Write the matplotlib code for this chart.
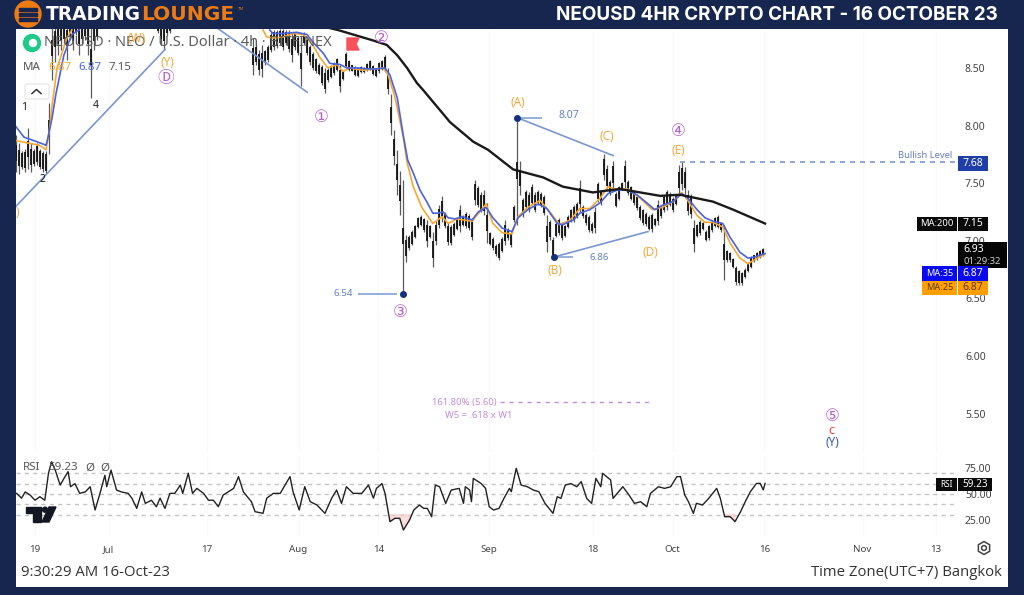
import datetime as dt
import numpy as np
import matplotlib
matplotlib.use("Agg")
import matplotlib.pyplot as plt
from matplotlib.patches import Rectangle, Circle, FancyBboxPatch, Polygon

# ------------------------- DATA -------------------------
START = dt.date(2023, 6, 19)
time_ticks = [(2023,6,19),(2023,7,1),(2023,7,17),(2023,8,1),(2023,8,14),(2023,9,1),
              (2023,9,18),(2023,10,1),(2023,10,16),(2023,11,1),(2023,11,13)]
time_labels = ['19','Jul','17','Aug','14','Sep','18','Oct','16','Nov','13']
price_ticks = [5.5, 6.0, 6.5, 7.0, 7.5, 8.0, 8.5]
rsi_ticks = [25, 50, 75]
rsi_levels = [30, 40, 50, 60, 70]

# price bars, early part of the chart
early_high = [7.92,7.85,7.78,7.80,7.98,7.85,7.80,7.85,7.80,7.78,7.78,8.20,8.95,8.95,8.95,8.95,8.95,8.95,
              8.95,8.95,8.95,8.95,8.95,8.95,8.95,8.95,8.95,8.95]
early_low = [7.60,7.58,7.62,7.60,7.62,7.60,7.65,7.66,7.62,7.60,7.58,7.75,8.40,8.55,8.61,8.66,8.70,8.57,
             8.74,8.66,8.79,8.61,8.70,8.74,8.61,8.24,8.66,8.74]
mid_high = [8.95,8.95,8.95,8.95,8.95]
mid_low = [8.80,8.70,8.66,8.78,8.80]
# price bars, main part of the chart
bar_high = [8.76,8.70,8.66,8.70,8.66,8.70,8.81,8.83,8.83,8.84,8.84,8.83,8.83,8.81,8.81,8.78,8.78,8.81,8.76,8.70,
            8.64,8.59,8.54,8.53,8.50,8.50,8.53,8.55,8.59,8.53,8.47,8.64,8.57,8.53,8.52,8.51,8.52,8.51,8.54,8.57,
            8.53,8.50,8.55,8.57,8.61,8.50,8.27,7.96,7.79,7.61,7.53,
            7.05,7.05,7.09,7.14,7.21,7.22,7.20,7.18,7.14,7.08,7.17,7.31,7.39,7.25,7.16,7.14,7.16,7.20,7.31,7.22,
            7.25,7.23,7.20,7.53,7.48,7.42,7.44,7.33,7.08,7.03,6.97,6.99,7.03,7.18,7.11,7.08,7.31,8.08,7.69,7.37,
            7.44,7.42,7.49,7.42,7.44,7.42,7.40,7.22,7.18,7.03,7.16,7.20,7.16,7.14,7.22,7.28,7.31,7.34,7.53,7.31,
            7.24,7.22,7.16,7.29,7.51,7.44,7.75,7.66,7.53,7.69,7.42,7.48,7.51,7.70,7.53,7.48,7.44,7.40,7.31,7.28,
            7.25,7.22,7.24,7.20,7.35,7.31,7.40,7.44,7.42,7.38,7.40,7.66,7.68,7.64,7.44,7.41,7.18,7.15,7.18,7.16,
            7.09,7.14,7.16,7.21,7.22,7.16,7.14,6.92,6.90,6.85,6.78,6.75,6.73,6.76,6.82,6.87,6.88,6.90,6.92,6.94]
bar_low = [8.44,8.53,8.44,8.42,8.53,8.55,8.64,8.66,8.67,8.70,8.66,8.70,8.64,8.55,8.66,8.61,8.34,8.70,8.61,8.53,
           8.48,8.46,8.44,8.35,8.28,8.38,8.41,8.44,8.47,8.29,8.40,8.50,8.47,8.47,8.43,8.42,8.46,8.46,8.47,8.48,
           8.44,8.42,8.46,8.48,8.47,8.27,7.92,7.66,7.40,7.22,6.55,
           6.82,6.92,6.96,7.02,7.11,7.13,7.08,6.95,7.02,6.77,6.96,7.11,7.16,7.11,6.96,6.96,7.04,7.09,7.08,7.13,
           7.11,7.09,7.01,7.31,7.29,7.25,7.22,6.98,6.96,6.92,6.87,6.83,6.90,6.96,7.01,6.95,7.16,7.14,7.40,7.21,
           7.27,7.25,7.31,7.25,7.31,7.29,7.22,6.90,7.01,6.86,7.03,7.05,7.01,7.03,7.11,7.16,7.16,7.20,7.25,7.20,
           7.14,7.08,7.07,7.07,7.34,7.31,7.53,7.44,7.40,7.46,7.29,7.35,7.44,7.46,7.40,7.35,7.31,7.27,7.18,7.14,
           7.13,7.09,7.08,7.13,7.14,7.20,7.25,7.27,7.30,7.25,7.31,7.40,7.44,7.41,7.22,7.20,6.90,7.03,7.05,7.09,
           7.00,7.01,7.08,7.12,7.11,7.08,6.66,6.82,6.82,6.76,6.62,6.62,6.62,6.68,6.73,6.76,6.82,6.83,6.85,6.87]

ma35_days_a = [-3.1,-1.8,-0.2,1.8,2.0,2.8,3.4,4.7,6.0,7.2]
ma35_a = [7.99,7.90,7.87,7.83,7.87,8.07,8.27,8.61,8.79,8.83]
ma25_days_a = [-3.1,-1.3,0.7,1.8,2.3,2.8,3.6,5.2,6.0]
ma25_a = [7.87,7.85,7.83,7.79,7.94,8.18,8.50,8.76,8.83]

ma35_days = [38.3,38.8,40.5,42.7,44.4,45.4,47.0,48.1,49.8,50.9,52.5,55.1,57.1,57.9,59.1,60.0,60.8,61.7,62.8,63.9,
             64.9,65.7,66.6,67.4,68.5,69.7,71.3,72.3,73.6,74.7,76.2,77.8,78.8,80.4,82.1,83.5,85.2,86.1,87.8,88.9,
             90.5,92.2,93.5,95.0,96.6,98.2,99.8,101.1,102.4,104.1,105.5,106.5,108.0,109.3,110.6,112.2,113.4,115.0,
             116.3,117.5,119.1]
ma35 = [8.83,8.80,8.80,8.81,8.79,8.72,8.63,8.54,8.53,8.50,8.50,8.49,8.50,8.44,8.24,7.94,7.70,7.59,7.44,7.34,
        7.24,7.24,7.25,7.20,7.19,7.21,7.18,7.25,7.29,7.20,7.11,7.08,7.20,7.27,7.32,7.28,7.15,7.14,7.18,7.24,
        7.27,7.33,7.41,7.44,7.44,7.40,7.33,7.27,7.31,7.34,7.41,7.37,7.27,7.20,7.17,7.15,7.03,6.90,
        6.85,6.86,6.89]
ma25_days = [37.2,37.8,38.8,40.5,42.1,43.7,44.9,46.5,47.8,49.3,50.2,51.4,53.5,56.8,57.6,58.7,60.0,60.7,61.7,63.1,
             64.9,66.4,67.4,68.8,71.3,73.6,74.7,76.2,77.8,78.8,80.4,82.4,84.0,85.6,87.3,88.9,90.5,92.2,93.5,95.0,
             96.7,98.7,100.7,102.3,104.1,105.5,106.5,108.0,109.3,110.6,112.2,113.4,115.0,116.3,117.8,119.0]
ma25 = [8.83,8.77,8.76,8.77,8.80,8.79,8.74,8.59,8.50,8.53,8.47,8.50,8.48,8.50,8.44,8.25,7.92,7.68,7.47,7.29,
        7.15,7.21,7.15,7.19,7.17,7.32,7.15,7.07,7.06,7.21,7.29,7.35,7.25,7.14,7.18,7.28,7.28,7.37,7.47,7.44,
        7.45,7.37,7.27,7.29,7.34,7.42,7.35,7.22,7.16,7.16,7.12,6.98,6.85,6.80,6.85,6.88]
ma200_days = [47.0,49.4,55.1,57.4,59.1,60.7,62.3,63.3,67.7,71.5,73.9,78.0,82.9,86.1,91.0,95.4,102.0,105.2,110.6,113.9,119.1]
ma200 = [8.86,8.83,8.74,8.70,8.61,8.50,8.37,8.31,8.03,7.86,7.79,7.62,7.55,7.47,7.42,7.45,7.39,7.40,7.34,7.27,7.15]

rsi_days = [-3,-2.2,-1.6,-0.8,0,0.8,1.6,2.2,2.7,3.3,4.1,4.9,5.4,5.8,6.5,7.3,8.2,9,9.8,10.6,11.4,11.7,12.4,13.3,14.1,
            15.2,15.8,16.6,17.4,18,19,19.8,20.4,21.2,22,22.8,23.7,24.1,25,25.7,26.4,27.5,28.3,29.1,29.9,30.7,31.5,
            32.4,33.2,34,35.3,35.9,37.2,37.8,38.9,40,40.8,41.6,42.1,43.1,44,44.9,46,47.3,48.4,49.2,50,50.8,51.9,
            53.3,54.4,55.2,55.7,56.6,57.1,57.9,58.7,59.5,60.1,61.1,61.8,62.7,63.4,64,64.7,65.3,66,67,67.9,69.2,
            69.9,70.2,70.9,71.2,71.5,72.8,73.5,74.1,74.8,75.7,76.5,77.4,77.7,78.5,79.3,80.3,81.3,82.2,83.2,84.5,
            85.2,85.8,86.5,87.4,88.4,89.1,90,90.8,91.5,92.3,92.6,93.9,94.3,95.2,95.9,96.9,97.8,98.8,99.8,100.4,
            101.7,102.7,103.7,104.7,105.3,106,106.6,107.4,107.9,108.9,109.9,111.2,111.8,112.5,113.4,114.2,115.1,
            116,116.7,117.7,118.3,118.8,119.1]
rsi = [50.6,46,52,49,44,47.4,44,70,81,73,58.6,66.7,71.5,57,60,50.6,52,57,34.6,50.6,68,57,73,53.8,52,50.6,46,36.2,52,41,
       44,37.8,46,36.2,50.6,50.6,58.6,50.6,70,50.6,55.4,50.6,44,44,37.8,49,52,55.4,66.7,52,42.6,33,31.4,46,50.6,50.6,
       58.6,66.7,52,34.6,57,42.6,39.4,31.4,46,53.8,41,57,50.6,50.6,58.6,46,55.4,60,50.6,23.4,26.6,26.6,15.4,25,34.6,
       39.4,36.2,36.2,28.2,58.6,57,41,53.8,55.4,41,57,53.8,42.6,65,60,55.4,37.8,34.6,36.2,45.8,55.4,52.2,74.7,58.6,
       57,53.8,52.2,41,31.4,47.4,45.8,58.6,60,57,61.9,45.8,41,65,57,69.9,63.5,45.8,52.2,57,49,41,42.6,37.8,50.6,57,
       55.4,57,66.7,66.7,49,42.6,31.4,41,39.4,45.8,55.4,45.8,28.2,28.2,23.4,33,44.2,52.2,60.2,60.2,54,60.2]

trend_lines = {
    'up': ([-3.1, 21.2], [7.30, 8.66]),
    'down': ([29.9, 44.4], [8.84, 8.29]),
    'A_C': ([78.6, 94.3], [8.07, 7.74]),
    'B_D': ([84.7, 100.0], [6.86, 7.08]),
}
swing_days = [78.6, 84.7, 60.0]
swing_prices = [8.07, 6.86, 6.54]
bullish_level = 7.68
fib_level = 5.60

# ------------------------- COLOURS -------------------------
NAVY = '#16264f'; ORANGE = '#f7a833'; BLUE = '#4a63e0'; TREND = '#7b97d2'
PURPLE = '#b565cc'; GREY = '#555555'; LOUNGE = '#ee7a12'
W, H = 1024, 595

fig = plt.figure(figsize=(W/100, H/100), dpi=100, facecolor=NAVY)
def bounds(x0, y0, x1, y1):
    return [x0/W, 1-y1/H, (x1-x0)/W, (y1-y0)/H]

panel = fig.add_axes(bounds(16, 29, 1008, 587), facecolor='white', zorder=0)
panel.set_xticks([]); panel.set_yticks([])
for s in panel.spines.values():
    s.set_visible(False)

PX_PER_DAY = 6.13
XLIM = (-3.1, (958-35)/PX_PER_DAY)
ax = fig.add_axes(bounds(16, 29, 958, 452), facecolor='none', zorder=1)
rx = fig.add_axes(bounds(16, 455, 958, 537), facecolor='none', zorder=1)
ax.set_xlim(*XLIM); rx.set_xlim(*XLIM)
ax.set_ylim(8.5-(452-68)*0.5/57.6, 8.5+(68-29)*0.5/57.6)
rx.set_ylim(75-(537-468)/1.04, 75+(468-455)/1.04)
for a in (ax, rx):
    for s in a.spines.values():
        s.set_visible(False)
    a.yaxis.tick_right()

tick_days = [(dt.date(*d)-START).days for d in time_ticks]
ax.set_xticks(tick_days); ax.set_xticklabels([])
ax.tick_params(axis='x', length=0)
rx.set_xticks(tick_days); rx.set_xticklabels(time_labels)
rx.tick_params(axis='x', length=0, pad=6, labelsize=7, labelcolor='#444444')
ax.set_yticks(price_ticks); ax.set_yticklabels([f'{p:.2f}' for p in price_ticks])
ax.tick_params(axis='y', length=0, pad=5, labelsize=7.5, labelcolor='#444444')
rx.set_yticks(rsi_ticks); rx.set_yticklabels([f'{p:.2f}' for p in rsi_ticks])
rx.tick_params(axis='y', length=0, pad=5, labelsize=7.5, labelcolor='#444444')
for a in (ax, rx):
    a.grid(True, axis='x', color='#f8f8f8', lw=0.8)
    a.set_axisbelow(True)
    for lab in a.get_xticklabels()+a.get_yticklabels():
        lab.set_family('Noto Sans')

# bars
STEP = 3/PX_PER_DAY
def draw_bars(a, start, hi, lo):
    hi = np.array(hi); lo = np.array(lo)
    d = start + np.arange(len(hi))*STEP
    a.vlines(d, lo, hi, color='#5a5a5a', lw=0.9, zorder=2)
    mid = (hi+lo)/2
    half = np.minimum((hi-lo)*0.38, 0.07)
    a.vlines(d, mid-half, mid+half, color='#111111', lw=1.3, zorder=2.2)
draw_bars(ax, -3.1, early_high, early_low)
draw_bars(ax, 20.0, mid_high, mid_low)
draw_bars(ax, 35.56, bar_high, bar_low)

# moving averages
ax.plot(ma25_days_a, ma25_a, color=ORANGE, lw=1.2, zorder=3)
ax.plot(ma25_days, ma25, color=ORANGE, lw=1.2, zorder=3)
ax.plot(ma35_days_a, ma35_a, color=BLUE, lw=1.2, zorder=3.1)
ax.plot(ma35_days, ma35, color=BLUE, lw=1.2, zorder=3.1)
ax.plot(ma200_days, ma200, color='#1a1a1a', lw=1.7, zorder=3.2)

# trend lines and levels
for xs, ys in trend_lines.values():
    ax.plot(xs, ys, color=TREND, lw=1.2, zorder=2.5)
ax.plot(swing_days, swing_prices, 'o', color='#14307e', ms=4, zorder=4)
ax.hlines(8.07, 79.0, 82.7, color=TREND, lw=1.1)
ax.hlines(6.86, 85.2, 87.8, color=TREND, lw=1.1)
ax.hlines(6.54, 52.7, 59.0, color=TREND, lw=1.1)
ax.hlines(bullish_level, 105.2, XLIM[1], color=TREND, lw=1.2, linestyles=(0, (3, 3)))
ax.hlines(fib_level, 75.9, 100.3, color='#c58bdc', lw=1.0, linestyles=(0, (3, 3.5)))

# RSI
for lv in rsi_levels:
    rx.axhline(lv, color='#c4c4c4', lw=1.0, ls=(0, (3, 3)), zorder=1)
rx.plot(rsi_days, rsi, color='#222222', lw=1.0, zorder=3)
rsi_arr = np.array(rsi)
rx.fill_between(rsi_days, rsi_arr, 30, where=rsi_arr < 30, color='#f8c8c8', alpha=0.6, zorder=2)

# overlay in pixel space for header, labels and price tags
ov = fig.add_axes([0, 0, 1, 1], facecolor='none', zorder=5)
ov.set_xlim(0, W); ov.set_ylim(H, 0); ov.axis('off')

def label(x, y, s, color='#333333', size=8, ha='center', weight='normal', family='Noto Sans'):
    ov.text(x, y, s, color=color, fontsize=size, ha=ha, va='center', fontweight=weight, family=family)

# logo and title
ov.add_patch(Circle((28, 14), 13, color=LOUNGE))
for yy in (9, 14, 19):
    ov.add_patch(Rectangle((19, yy-1.5), 18, 3, color=NAVY))
label(46, 14, 'TRADING', 'white', 13.4, 'left', 'bold', 'DejaVu Sans')
label(141, 14, 'LOUNGE', LOUNGE, 14.6, 'left', 'bold', 'DejaVu Sans')
label(238, 9, 'TM', LOUNGE, 3, 'left')
label(998, 15, 'NEOUSD 4HR CRYPTO CHART - 16 OCTOBER 23', 'white', 13.55, 'right', 'bold', 'Inter')

# chart header
ov.add_patch(Circle((32, 43), 8.5, color='#1fc98a', zorder=1))
ov.add_patch(Circle((33, 43), 3.5, color='white', zorder=1))
label(44, 43, 'NEOUSD · NEO / U.S. Dollar · 4h · BITFINEX', '#5c5c5c', 10.5, 'left')
ov.add_patch(Polygon([(347, 38), (359, 38), (356, 44), (359, 50), (347, 50)], color='#f9505a'))
label(23, 68, 'MA', GREY, 8.3, 'left')
label(48, 68, '6.87', ORANGE, 8.3, 'left')
label(78, 68, '6.87', BLUE, 8.3, 'left')
label(109, 68, '7.15', GREY, 8.3, 'left')
ov.add_patch(FancyBboxPatch((25, 84), 24, 15, boxstyle='round,pad=0,rounding_size=2', fc='white', ec='#e4e4e4', lw=0.8))
ov.plot([32, 36.5, 41], [93.5, 89.5, 93.5], color='#333333', lw=1.1)
label(24, 108, '1', '#222222', 7.5, 'center')
label(42, 180, '2', '#111111', 7.5, 'center')
label(96, 105, '4', '#222222', 7.5, 'center')

# wave labels
for x, y, s in [(518, 103, '(A)'), (555, 270, '(B)'), (607, 136, '(C)'), (650, 253, '(D)'),
                (678, 151, '(E)'), (167, 62, '(Y)'), (137, 38, '(W)'), (17, 213, ')')]:
    label(x, y, s, '#f8a93a', 8.5)
label(166, 79, 'Ⓓ', PURPLE, 12, family=['Noto Sans CJK JP', 'DejaVu Sans'])
for x, y, s in [(321, 117, '①'), (381, 38, '②'), (400, 312, '③'), (678, 131, '④'), (832, 416, '⑤')]:
    label(x, y, s, PURPLE, 12, family='DejaVu Sans')
label(831, 431, 'c', '#f04050', 9, weight='bold')
label(832, 443, '(Y)', '#3a5aa8', 8.5)

label(569, 116, '8.07', '#6680c0', 7.5, weight='bold')
label(599, 257, '6.86', '#6680c0', 7)
label(343, 294, '6.54', '#6680c0', 7)
label(925, 155, 'Bullish Level', '#6680c0', 6.8)
label(464, 402, '161.80% (5.60)', '#c58bdc', 6.8)
label(479, 415, 'W5 = .618 x W1', '#c58bdc', 6.8)

# price tags
def tag(x0, y0, x1, y1, fc):
    ov.add_patch(Rectangle((x0, y0), x1-x0, y1-y0, fc=fc, ec='none'))
tag(958, 156, 988, 171, '#1f3fa8'); label(973, 163.5, '7.68', 'white', 7.5, weight='bold')
tag(917, 217, 957, 231, '#0a0a0a'); label(937, 224, 'MA:200', 'white', 6.8)
tag(958, 217, 988, 231, '#0a0a0a'); label(973, 224, '7.15', 'white', 7.5, weight='bold')
tag(958, 242, 1007, 268, '#050505')
label(974, 249, '6.93', 'white', 7.5, weight='bold')
label(982, 261, '01:29:32', '#cccccc', 6.8)
tag(922, 266, 957, 281, '#0a0af0'); label(939.5, 273.5, 'MA:35', 'white', 6.6)
tag(958, 266, 988, 281, '#0a0af0'); label(973, 273.5, '6.87', 'white', 7.5, weight='bold')
tag(922, 281, 957, 295, '#ffa000'); label(939.5, 288, 'MA:25', '#5a3c00', 6.6)
tag(958, 281, 988, 295, '#ffa000'); label(973, 288, '6.87', '#5a3c00', 7.5, weight='bold')
tag(936, 478, 957, 491, '#0a0a0a'); label(946.5, 484.5, 'RSI', 'white', 6)
tag(958, 478, 992, 491, '#0a0a0a'); label(975, 484.5, '59.23', 'white', 7.2, weight='bold')

# RSI caption, TV mark, settings, footer
label(23, 468, 'RSI', GREY, 8.3, 'left')
label(48, 468, '59.23', GREY, 8.3, 'left')
label(85, 468, 'Ø', GREY, 8.3, 'left')
label(100, 468, 'Ø', GREY, 8.3, 'left')
ov.add_patch(Polygon([(26, 507), (41, 507), (41, 522), (33, 522), (33, 513), (26, 513)], color='#131722'))
ov.add_patch(Circle((45, 509.7), 2.5, color='#131722'))
ov.add_patch(Polygon([(49, 507), (56, 507), (49, 522), (42, 522)], color='#131722'))
hex_t = np.deg2rad(np.arange(0, 360, 60)+30)
ov.add_patch(Polygon(np.c_[984+6.5*np.cos(hex_t), 548+6.5*np.sin(hex_t)], fc='none', ec='#444444', lw=1.1))
ov.add_patch(Circle((984, 548), 2.4, fc='none', ec='#444444', lw=1.1))
label(21, 573, '9:30:29 AM 16-Oct-23', '#333333', 10.7, 'left', family='Open Sans')
label(1002, 573, 'Time Zone(UTC+7) Bangkok', '#333333', 10.7, 'right', family='Open Sans')

fig.savefig('out.png', dpi=100, facecolor=NAVY)
